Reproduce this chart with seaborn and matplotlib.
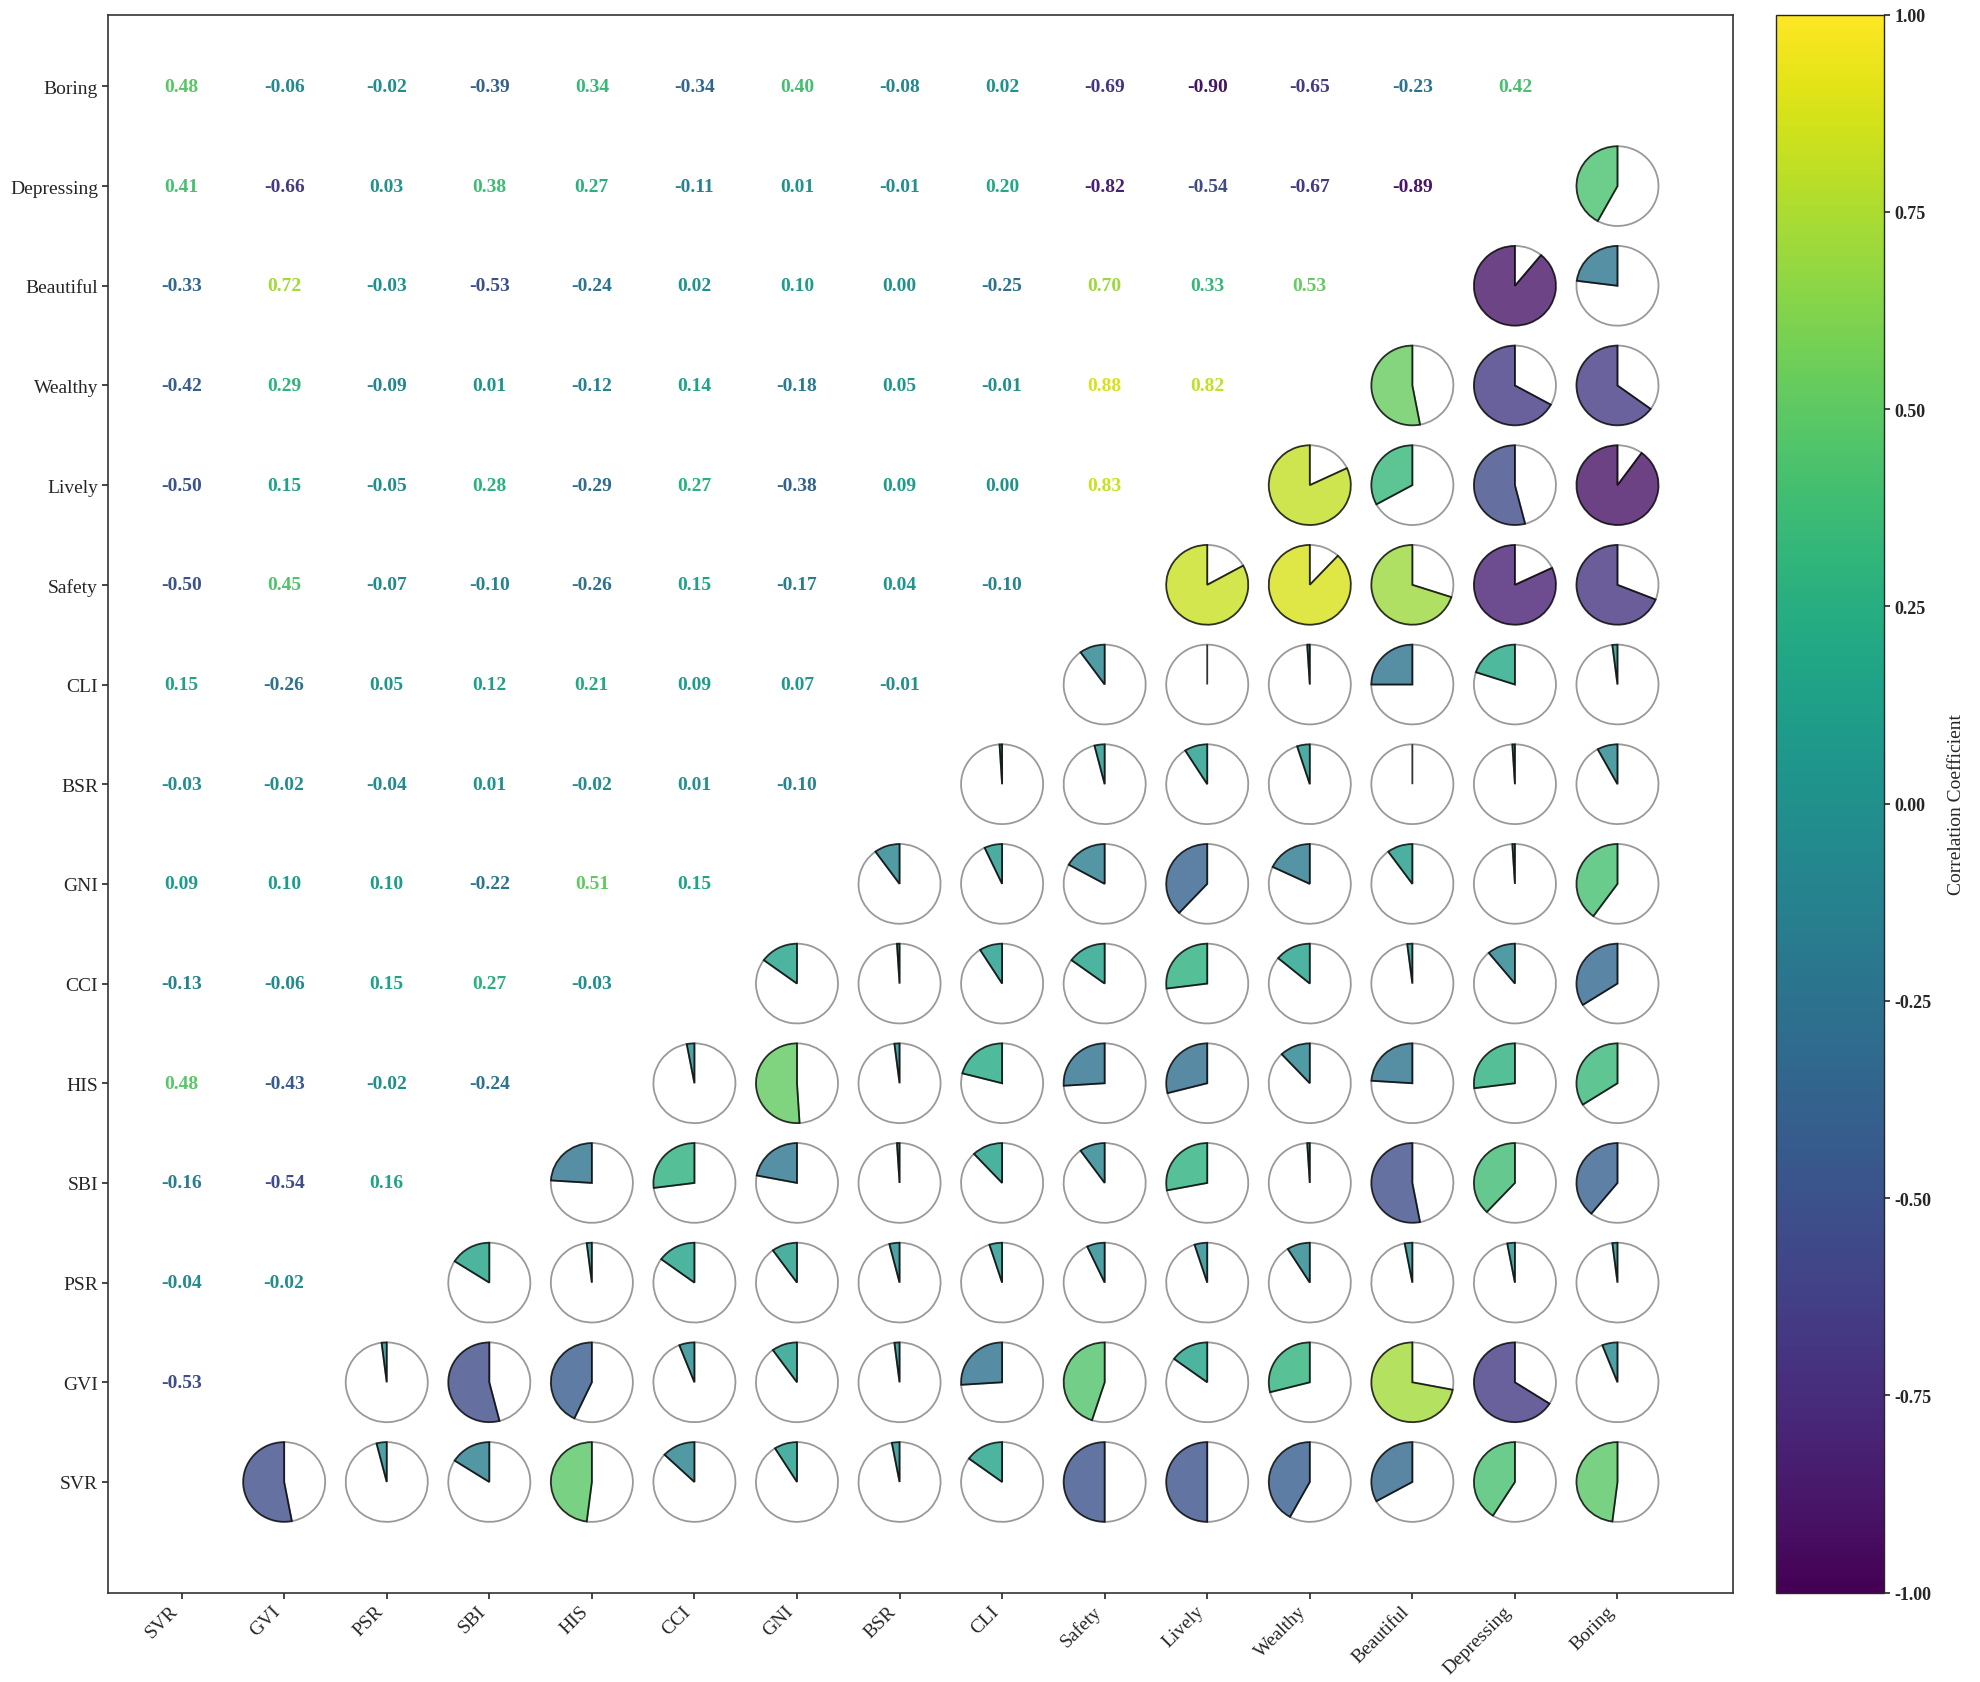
import numpy as np
import matplotlib
matplotlib.use("Agg")
import matplotlib.pyplot as plt
import matplotlib.colors as mcolors
import seaborn as sns

sns.set_theme(style="ticks")
plt.rcParams["font.family"] = ["Liberation Serif", "DejaVu Serif"]
plt.rcParams["axes.unicode_minus"] = False

labels = ["SVR", "GVI", "PSR", "SBI", "HIS", "CCI", "GNI", "BSR", "CLI",
          "Safety", "Lively", "Wealthy", "Beautiful", "Depressing", "Boring"]

# lower triangle, one list per row (correlations with the variables before it)
r_gvi = [-0.53]
r_psr = [-0.04, -0.02]
r_sbi = [-0.16, -0.54, 0.16]
r_his = [0.48, -0.43, -0.02, -0.24]
r_cci = [-0.13, -0.06, 0.15, 0.27, -0.03]
r_gni = [0.09, 0.10, 0.10, -0.22, 0.51, 0.15]
r_bsr = [-0.03, -0.02, -0.04, 0.01, -0.02, 0.01, -0.10]
r_cli = [0.15, -0.26, 0.05, 0.12, 0.21, 0.09, 0.07, -0.01]
r_safety = [-0.50, 0.45, -0.07, -0.10, -0.26, 0.15, -0.17, 0.04, -0.10]
r_lively = [-0.50, 0.15, -0.05, 0.28, -0.29, 0.27, -0.38, 0.09, 0.00, 0.83]
r_wealthy = [-0.42, 0.29, -0.09, 0.01, -0.12, 0.14, -0.18, 0.05, -0.01, 0.88, 0.82]
r_beautiful = [-0.33, 0.72, -0.03, -0.53, -0.24, 0.02, 0.10, 0.00, -0.25, 0.70, 0.33, 0.53]
r_depressing = [0.41, -0.66, 0.03, 0.38, 0.27, -0.11, 0.01, -0.01, 0.20, -0.82, -0.54, -0.67, -0.89]
r_boring = [0.48, -0.06, -0.02, -0.39, 0.34, -0.34, 0.40, -0.08, 0.02, -0.69, -0.90, -0.65, -0.23, 0.42]

rows = [[], r_gvi, r_psr, r_sbi, r_his, r_cci, r_gni, r_bsr, r_cli,
        r_safety, r_lively, r_wealthy, r_beautiful, r_depressing, r_boring]

n = len(labels)
corr = np.eye(n)
for i, vals in enumerate(rows):
    for j, v in enumerate(vals):
        corr[i, j] = v
        corr[j, i] = v

cmap = sns.color_palette("viridis", as_cmap=True)
norm = mcolors.Normalize(vmin=-1, vmax=1)

fig = plt.figure(figsize=(19.81, 16.83), dpi=100)
ax = fig.add_axes([0.0544, 0.0531, 0.8206, 0.9376])
cax = fig.add_axes([0.8965, 0.0531, 0.0547, 0.9376])

for i in range(n):
    for j in range(n):
        r = corr[i, j]
        if j < i:
            ax.text(j, i, f"{r:.2f}", ha="center", va="center",
                    fontsize=14, fontweight="bold", color=cmap(norm(r)))
        elif j > i:
            wedges, _ = ax.pie([abs(r), 1 - abs(r)], colors=[cmap(norm(r)), "white"],
                               center=(j, i), radius=0.4, startangle=90,
                               counterclock=True, frame=True,
                               wedgeprops=dict(edgecolor="black", linewidth=1.3, alpha=0.8))
            wedges[1].set_edgecolor("gray")
            wedges[0].set_zorder(wedges[1].get_zorder() + 0.1)

ax.set_aspect("auto")
ax.set_xlim(-0.72, 15.13)
ax.set_ylim(-1.11, 14.72)
ax.set_xticks(range(n))
ax.set_xticklabels(labels, rotation=45, ha="right", fontsize=14)
ax.set_yticks(range(n))
ax.set_yticklabels(labels, fontsize=14)
ax.tick_params(length=4, width=1.2, pad=3)
for s in ax.spines.values():
    s.set_visible(True)
    s.set_linewidth(1.2)
    s.set_color("#333333")

sm = plt.cm.ScalarMappable(norm=norm, cmap=cmap)
cb = fig.colorbar(sm, cax=cax, ticks=np.arange(-1, 1.01, 0.25))
cb.ax.set_yticklabels([f"{t:.2f}" for t in np.arange(-1, 1.01, 0.25)],
                      fontsize=13, fontweight="bold")
cb.ax.tick_params(length=4, width=1.2, pad=3)
cb.set_label("Correlation Coefficient", fontsize=14, labelpad=12)
cb.outline.set_linewidth(1.0)

fig.savefig("out.png", dpi=100)
